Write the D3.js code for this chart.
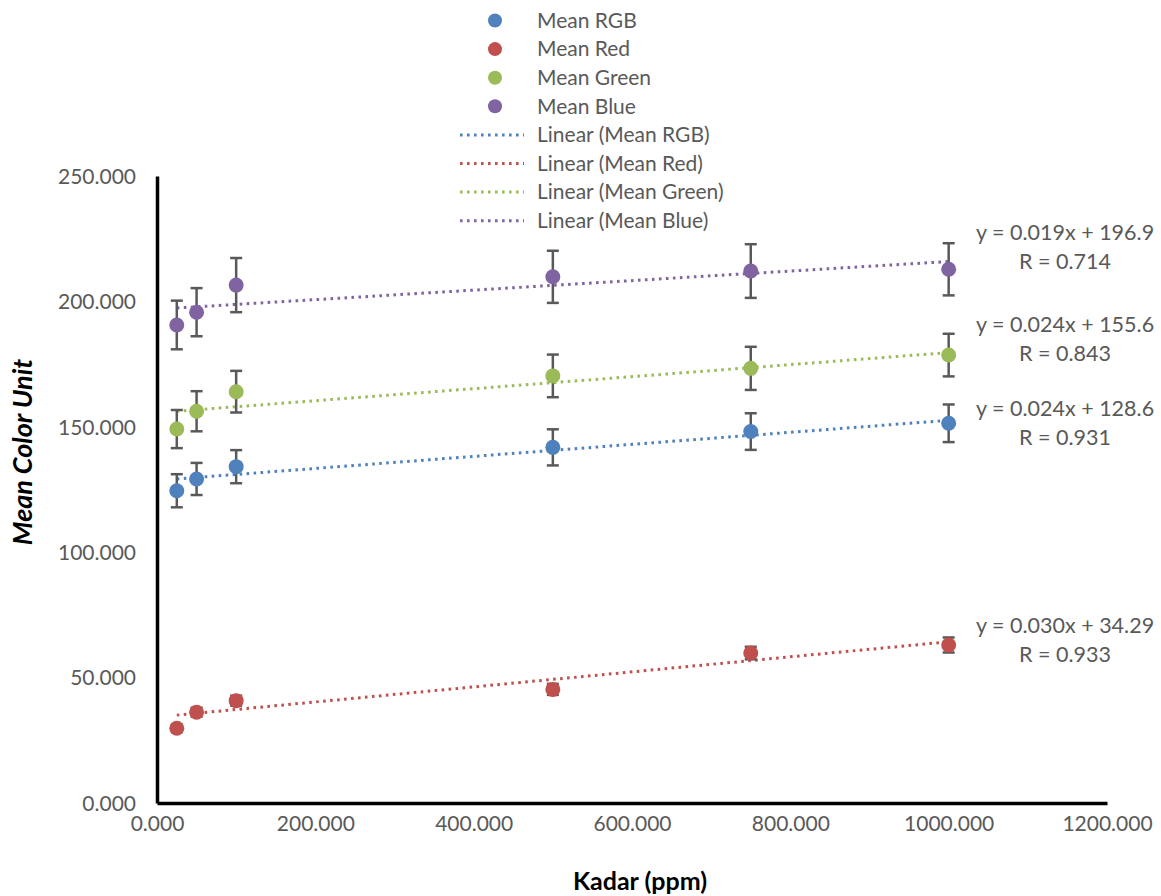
<!DOCTYPE html>
<html>
<head>
<meta charset="utf-8">
<script src="https://cdn.jsdelivr.net/npm/d3@7"></script>
<style>
  body { margin: 0; background: #fff; }
  #chart text { font-family: Lato, "Open Sans", sans-serif; }
</style>
</head>
<body>
<div id="chart"></div>
<script>
const kadar = [25, 50, 100, 500, 750, 1000];

const seriesNames = ["Mean RGB", "Mean Red", "Mean Green", "Mean Blue"];
const meanRGB = [124.5, 129.2, 134.1, 141.8, 148.1, 151.4];
const meanRed = [29.8, 36.2, 40.8, 45.3, 59.8, 63.0];
const meanGreen = [149.1, 156.2, 164.0, 170.3, 173.3, 178.6];
const meanBlue = [190.6, 195.7, 206.5, 209.8, 212.1, 212.8];

const errRGB = [6.6, 6.4, 6.6, 7.2, 7.3, 7.5];
const errRed = [1.5, 1.8, 2.0, 2.2, 2.5, 3.0];
const errGreen = [7.6, 8.0, 8.3, 8.5, 8.6, 8.5];
const errBlue = [9.7, 9.6, 10.8, 10.4, 10.7, 10.4];

// trendline coefficients as printed on the chart
const slopes = [0.024, 0.030, 0.024, 0.019];
const intercepts = [128.6, 34.29, 155.6, 196.9];
const rValues = ["0.931", "0.933", "0.843", "0.714"];

const xTicks = [0, 200, 400, 600, 800, 1000, 1200];
const yTicks = [0, 50, 100, 150, 200, 250];

const colors = ["#4F81BD", "#C0504D", "#9BBB59", "#8064A2"];

function drawChart() {
    const W = 1161, H = 896;
    const margin = { top: 176, right: 54, bottom: 93, left: 157 };
    const width = W - margin.left - margin.right;
    const height = H - margin.top - margin.bottom;

    const svg = d3.select("#chart")
        .append("svg")
        .attr("width", W)
        .attr("height", H);

    const g = svg.append("g")
        .attr("transform", `translate(${margin.left},${margin.top})`);

    const x = d3.scaleLinear().domain([0, 1200]).range([0, width]);
    const y = d3.scaleLinear().domain([0, 250]).range([height, 0]);

    const values = [meanRGB, meanRed, meanGreen, meanBlue];
    const errors = [errRGB, errRed, errGreen, errBlue];

    // axes
    const xAxis = g.append("g")
        .attr("transform", `translate(0,${height})`)
        .call(d3.axisBottom(x).tickValues(xTicks).tickSize(0).tickPadding(13).tickFormat(d3.format(".3f")));
    const yAxis = g.append("g")
        .call(d3.axisLeft(y).tickValues(yTicks).tickSize(0).tickPadding(21).tickFormat(d3.format(".3f")));

    [xAxis, yAxis].forEach(a => {
        a.select(".domain").attr("stroke", "#000").attr("stroke-width", 3.5);
        a.selectAll("text")
            .attr("fill", "#595959")
            .style("font-size", "21px");
    });
    yAxis.selectAll("text").attr("dy", "0.35em");

    // trendlines
    const line = d3.line().x(d => x(d[0])).y(d => y(d[1]));
    values.forEach((vals, i) => {
        const x0 = d3.min(kadar), x1 = d3.max(kadar);
        g.append("path")
            .datum([[x0, slopes[i] * x0 + intercepts[i]], [x1, slopes[i] * x1 + intercepts[i]]])
            .attr("fill", "none")
            .attr("stroke", colors[i])
            .attr("stroke-width", 3)
            .attr("stroke-dasharray", "2.6,4.4")
            .attr("d", line);
    });

    // error bars
    values.forEach((vals, i) => {
        const eb = g.append("g").attr("stroke", "#595959").attr("stroke-width", 2.5);
        vals.forEach((v, j) => {
            const cx = x(kadar[j]);
            const top = y(v + errors[i][j]), bot = y(v - errors[i][j]);
            eb.append("line").attr("x1", cx).attr("x2", cx).attr("y1", top).attr("y2", bot);
            eb.append("line").attr("x1", cx - 6).attr("x2", cx + 6).attr("y1", top).attr("y2", top);
            eb.append("line").attr("x1", cx - 6).attr("x2", cx + 6).attr("y1", bot).attr("y2", bot);
        });
    });

    // markers
    values.forEach((vals, i) => {
        g.append("g").selectAll("circle")
            .data(vals)
            .join("circle")
            .attr("cx", (d, j) => x(kadar[j]))
            .attr("cy", d => y(d))
            .attr("r", 7.5)
            .attr("fill", colors[i]);
    });

    // equation labels
    const labelAt = [157.5, 70.6, 190.7, 227.3];
    values.forEach((vals, i) => {
        const lx = x(1147), ly = y(labelAt[i]);
        const slopeTxt = slopes[i].toFixed(3);
        const intTxt = String(intercepts[i]);
        const t = g.append("text")
            .attr("x", lx)
            .attr("y", ly)
            .attr("text-anchor", "middle")
            .attr("fill", "#595959")
            .style("font-size", "21.5px");
        t.append("tspan").attr("x", lx).attr("dy", "0.35em").text(`y = ${slopeTxt}x + ${intTxt}`);
        t.append("tspan").attr("x", lx).attr("dy", "1.35em").text(`R = ${rValues[i]}`);
    });

    // axis titles
    svg.append("text")
        .attr("x", 640)
        .attr("y", 890)
        .attr("text-anchor", "middle")
        .attr("font-weight", "bold")
        .attr("fill", "#000")
        .style("font-size", "25px")
        .text("Kadar (ppm)");

    svg.append("text")
        .attr("transform", "translate(32,452) rotate(-90)")
        .attr("text-anchor", "middle")
        .attr("font-weight", "bold")
        .attr("font-style", "italic")
        .attr("fill", "#000")
        .style("font-size", "27px")
        .text("Mean Color Unit");

    // legend
    const legend = svg.append("g");
    const rowH = 28.6;
    seriesNames.forEach((name, i) => {
        const ly = 20.5 + i * rowH;
        legend.append("circle").attr("cx", 495).attr("cy", ly).attr("r", 7).attr("fill", colors[i]);
        legend.append("text").attr("x", 537).attr("y", ly).attr("dy", "0.35em")
            .attr("fill", "#595959").style("font-size", "21px").text(name);
    });
    seriesNames.forEach((name, i) => {
        const ly = 20.5 + (i + 4) * rowH;
        legend.append("line").attr("x1", 460).attr("x2", 524).attr("y1", ly).attr("y2", ly)
            .attr("stroke", colors[i]).attr("stroke-width", 3).attr("stroke-dasharray", "2.6,4.4");
        legend.append("text").attr("x", 537).attr("y", ly).attr("dy", "0.35em")
            .attr("fill", "#595959").style("font-size", "21px").text(`Linear (${name})`);
    });
}

drawChart();
</script>
</body>
</html>
